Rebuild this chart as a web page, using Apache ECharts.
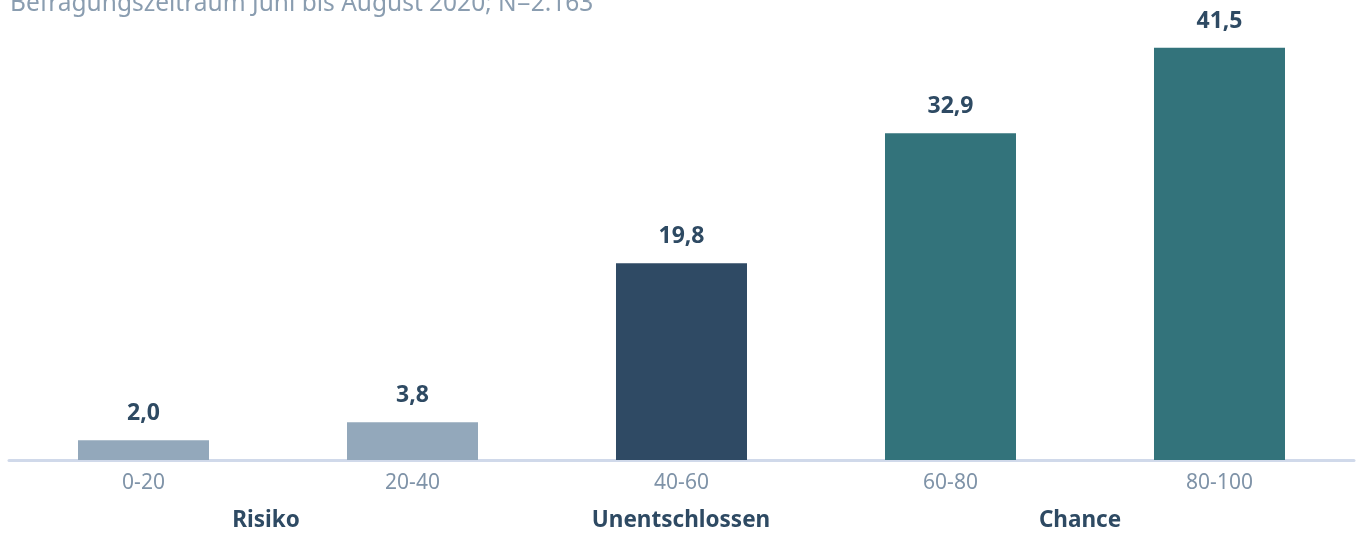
<!DOCTYPE html>
<html>
<head>
<meta charset="utf-8">
<script src="https://cdn.jsdelivr.net/npm/echarts@6/dist/echarts.min.js"></script>
<style>
    html, body { margin: 0; padding: 0; background: #fff; }
    #chart { width: 1360px; height: 533px; }
</style>
</head>
<body>
<div id="chart"></div>
<script>
    let categories = ['0-20', '20-40', '40-60', '60-80', '80-100'];
    let values = [2.0, 3.8, 19.8, 32.9, 41.5];
    let barColors = ['#93a8bb', '#93a8bb', '#2f4a64', '#33737b', '#33737b'];
    let groupLabels = ['Risiko', 'Unentschlossen', 'Chance'];
    let groupX = [266, 681, 1080];
    let subtitle = 'Befragungszeitraum Juni bis August 2020; N=2.163';

    let fontFamily = '"Source Sans Pro", "Noto Sans", sans-serif';

    let chart = echarts.init(document.getElementById('chart'));

    let opts = {
        animation: false,
        textStyle: { fontFamily: fontFamily },
        grid: {
            left: 9,
            right: 6,
            top: 13,
            bottom: 73,
            containLabel: false
        },
        xAxis: [
            {
                type: 'category',
                data: categories,
                axisTick: { show: false },
                axisLine: {
                    lineStyle: { color: '#d0d9ea', width: 3 }
                },
                axisLabel: {
                    color: '#7f93a8',
                    fontSize: 21,
                    margin: 13
                }
            }
        ],
        yAxis: [
            {
                type: 'value',
                min: 0,
                max: 45,
                show: false,
                splitLine: { show: false }
            }
        ],
        series: [
            {
                type: 'bar',
                barWidth: '48.7%',
                data: values.map((v, i) => ({
                    value: v,
                    itemStyle: { color: barColors[i] }
                })),
                label: {
                    show: true,
                    position: 'top',
                    distance: 15,
                    color: '#2e4a63',
                    fontSize: 23,
                    fontWeight: 'bold',
                    formatter: (p) => p.value.toFixed(1).replace('.', ',')
                }
            }
        ],
        graphic: [
            {
                type: 'text',
                x: 10,
                y: 17,
                style: {
                    text: subtitle,
                    fill: '#8a9db0',
                    font: '24.5px ' + fontFamily,
                    textVerticalAlign: 'bottom'
                }
            }
        ].concat(groupLabels.map((t, i) => ({
            type: 'text',
            x: groupX[i],
            y: 521,
            style: {
                text: t,
                fill: '#2e4a63',
                font: 'bold 22.5px ' + fontFamily,
                textAlign: 'center',
                textVerticalAlign: 'middle'
            }
        })))
    };

    chart.setOption(opts);
</script>
</body>
</html>
